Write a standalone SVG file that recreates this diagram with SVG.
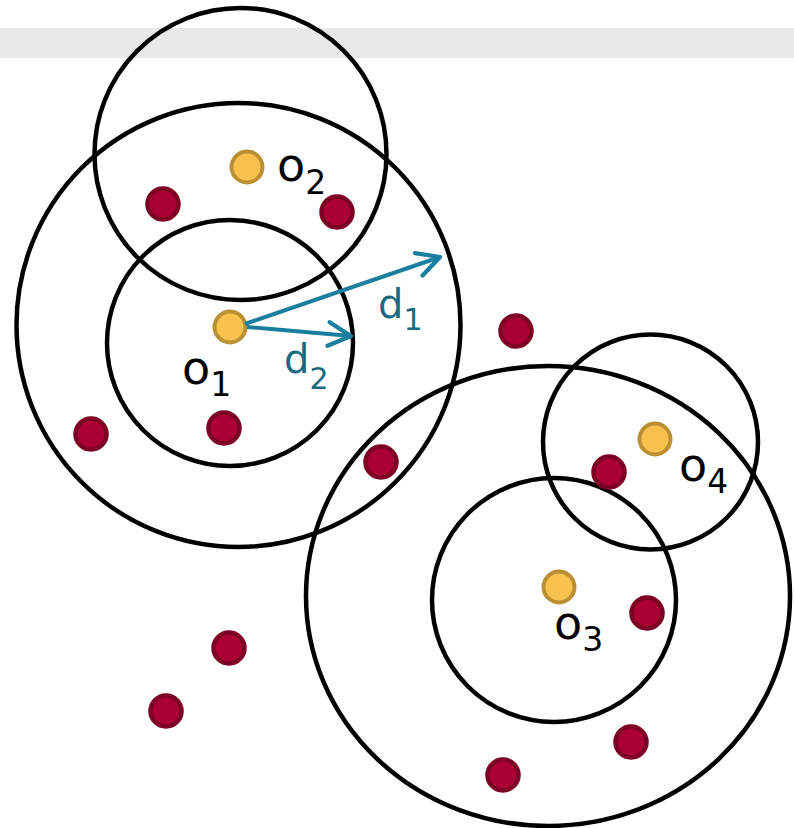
<svg xmlns="http://www.w3.org/2000/svg" width="794" height="828" viewBox="0 0 794 828">
<style>
.ring{fill:none;stroke:#000;stroke-width:4.5}
.obj{fill:#F9C24F;stroke:#BB9033;stroke-width:4}
.pt{fill:#AA0033;stroke:#7D0025;stroke-width:4.5}
.lbl{font-family:"DejaVu Sans",Verdana,sans-serif;fill:#000;font-size:46px}
.lbl tspan{font-size:33px}
.dl{font-family:"DejaVu Sans",Verdana,sans-serif;fill:#1B6A80;font-size:40px}
.dl tspan{font-size:30px}
.arr{stroke:#1A7E9E;stroke-width:4;fill:none;marker-end:url(#chev)}
</style>
<defs>
<marker id="chev" markerUnits="userSpaceOnUse" markerWidth="30" markerHeight="30" viewBox="-24 -14 28 28" refX="0" refY="0" orient="auto">
<path d="M-21,-11 L0,0 L-21,11" fill="none" stroke="#1A7E9E" stroke-width="4" stroke-linecap="round" stroke-linejoin="round"/>
</marker>
</defs>
<rect x="0" y="28" width="794" height="30" fill="#E7E9E8"/>
<g id="rings">
<circle class="ring" cx="240.5" cy="154" r="146"/>
<circle class="ring" cx="238.5" cy="325" r="222"/>
<circle class="ring" cx="230" cy="343" r="123"/>
<ellipse class="ring" cx="548" cy="596" rx="242" ry="230"/>
<circle class="ring" cx="554" cy="600" r="122"/>
<circle class="ring" cx="650.5" cy="442" r="107.5"/>
</g>
<g id="points">
<circle class="pt" cx="163" cy="204" r="15.5"/>
<circle class="pt" cx="337" cy="212" r="15.5"/>
<circle class="pt" cx="516" cy="331" r="15.5"/>
<circle class="pt" cx="91" cy="434" r="15.5"/>
<circle class="pt" cx="224" cy="428" r="15.5"/>
<circle class="pt" cx="381" cy="462" r="15.5"/>
<circle class="pt" cx="609" cy="472" r="15.5"/>
<circle class="pt" cx="647" cy="613" r="15.5"/>
<circle class="pt" cx="229" cy="648" r="15.5"/>
<circle class="pt" cx="166" cy="711" r="15.5"/>
<circle class="pt" cx="631" cy="742" r="15.5"/>
<circle class="pt" cx="503" cy="775" r="15.5"/>
</g>
<g id="o1"><circle class="obj" cx="230" cy="327" r="15.5"/><text class="lbl" x="182" y="384">o<tspan dy="12">1</tspan></text></g>
<g id="o2"><circle class="obj" cx="247" cy="167" r="15.5"/><text class="lbl" x="277" y="181">o<tspan dy="13">2</tspan></text></g>
<g id="o3"><circle class="obj" cx="559" cy="587" r="15.5"/><text class="lbl" x="554" y="639">o<tspan dy="12">3</tspan></text></g>
<g id="o4"><circle class="obj" cx="655" cy="439" r="15.5"/><text class="lbl" x="679" y="481">o<tspan dy="12">4</tspan></text></g>
<g id="connectors">
<line class="arr" x1="245" y1="324" x2="440" y2="257"/>
<line class="arr" x1="247" y1="327" x2="351" y2="336"/>
</g>
<g id="dlabels">
<text class="dl" x="378" y="318">d<tspan dy="12">1</tspan></text>
<text class="dl" x="284" y="373">d<tspan dy="16">2</tspan></text>
</g>
</svg>
